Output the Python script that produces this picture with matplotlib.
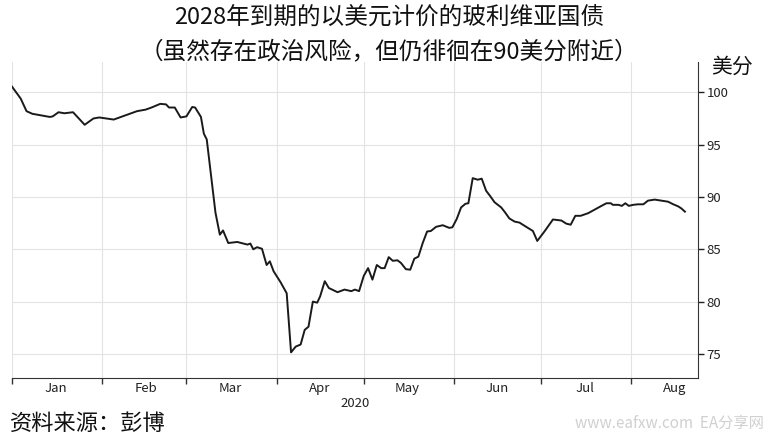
import numpy as np
import pandas as pd
import matplotlib
matplotlib.use("Agg")
import matplotlib.pyplot as plt
import matplotlib.dates as mdates

plt.rcParams['font.family'] = ['Noto Sans CJK SC', 'DejaVu Sans']

# days since 2020-01-01, price in US cents
days = [0, 3, 5, 7, 10, 13, 14, 16, 18, 21, 25, 28, 30, 35, 38, 40, 43, 46, 48, 51,
        53, 54, 56, 58, 60, 62, 63, 65, 66, 67, 70, 71.5, 72.6, 74.4, 77.5, 81, 82, 83,
        84.3, 86, 87.6, 88.7, 90, 92.4, 94.5, 96, 97.6, 99.3, 100.7, 102, 103.5, 105,
        106, 107.6, 109, 112, 114.4, 116.7, 118, 119.4, 121, 122.5, 124, 125.5, 127,
        128.2, 129.6, 131, 132.6, 133.8, 135.5, 137, 138.4, 139.8, 141.3, 142.8, 144.1,
        145.9, 148.2, 150.4, 151.5, 153, 154.5, 156, 157, 158.5, 160.2, 161.6, 163.1,
        164.6, 166, 168.3, 169.7, 171.1, 172.9, 174.6, 176.3, 179.2, 180.7, 183.3,
        186.1, 189, 190.7, 192.2, 193.8, 195.6, 198.2, 200.5, 202.8, 204.5, 206, 206.7,
        208.6, 209.8, 211, 212.2, 213.7, 215.4, 217.2, 218.8, 221.1, 223.4, 225.7,
        227.5, 229.2, 230.3, 231.5]
price = [100.55, 99.4, 98.2, 97.95, 97.8, 97.65, 97.7, 98.1, 98.0, 98.1, 96.9, 97.5,
         97.6, 97.4, 97.7, 97.9, 98.2, 98.35, 98.55, 98.9, 98.85, 98.55, 98.55, 97.6,
         97.7, 98.6, 98.55, 97.65, 96.05, 95.5, 88.5, 86.4, 86.8, 85.6, 85.7, 85.45,
         85.55, 85.0, 85.2, 85.05, 83.5, 83.85, 82.9, 81.85, 80.8, 75.15, 75.7, 75.9,
         77.3, 77.6, 80.0, 79.9, 80.5, 81.95, 81.3, 80.9, 81.15, 81.0, 81.15, 81.0,
         82.45, 83.2, 82.1, 83.5, 83.2, 83.2, 84.25, 83.9, 83.95, 83.7, 83.1, 83.05,
         84.1, 84.3, 85.6, 86.7, 86.75, 87.15, 87.3, 87.05, 87.1, 87.9, 89.0, 89.35,
         89.4, 91.8, 91.65, 91.75, 90.6, 90.05, 89.5, 89.0, 88.5, 87.95, 87.65, 87.55,
         87.25, 86.75, 85.8, 86.75, 87.85, 87.75, 87.45, 87.35, 88.2, 88.2, 88.45,
         88.8, 89.15, 89.4, 89.4, 89.25, 89.25, 89.15, 89.4, 89.15, 89.25, 89.3, 89.3,
         89.65, 89.75, 89.65, 89.55, 89.3, 89.1, 88.9, 88.6]

title_1 = "2028年到期的以美元计价的玻利维亚国债"
title_2 = "（虽然存在政治风险，但仍徘徊在90美分附近）"
unit = "美分"
source = "资料来源：彭博"
yticks = [75, 80, 85, 90, 95, 100]

dates = pd.Timestamp("2020-01-01") + pd.to_timedelta(days, unit="D")

fig = plt.figure(figsize=(7.69, 4.40), dpi=100)
ax = fig.add_axes([12/769, 1 - 378/440, (698 - 12)/769, (378 - 62)/440])

ax.plot(dates, price, color="#1a1a1a", lw=1.4)

ax.set_xlim(pd.Timestamp("2020-01-01"), pd.Timestamp("2020-08-24"))
ax.set_ylim(72.7, 102.9)

# y axis on the right
ax.yaxis.tick_right()
ax.set_yticks(yticks)
ax.tick_params(axis="y", length=4, width=1, colors="#222222", labelsize=9.5, pad=2)
ax.spines["left"].set_visible(False)
ax.spines["top"].set_visible(False)
ax.spines["right"].set_color("#333333")
ax.spines["bottom"].set_color("#333333")

# month boundaries as ticks, labels in the middle of the month
ax.xaxis.set_major_locator(mdates.MonthLocator())
ax.xaxis.set_major_formatter(plt.NullFormatter())
ax.xaxis.set_minor_locator(mdates.MonthLocator(bymonthday=16))
ax.xaxis.set_minor_formatter(mdates.DateFormatter("%b"))
ax.tick_params(axis="x", which="major", length=4, width=1, color="#333333")
ax.tick_params(axis="x", which="minor", length=0, labelsize=9.5, labelcolor="#222222", pad=3)

ax.grid(True, which="major", color="#e3e3e3", lw=0.8)
ax.set_axisbelow(True)

fig.text(355/769, 1 - 403/440, "2020", ha="center", va="center", fontsize=9.5, color="#222222")
fig.text(389/769, 1 - 18/440, title_1, ha="center", va="center", fontsize=17, color="#111111")
fig.text(389/769, 1 - 52/440, title_2, ha="center", va="center", fontsize=17, color="#111111")
fig.text(711/769, 1 - 67/440, unit, ha="left", va="center", fontsize=15, color="#111111")
fig.text(10/769, 1 - 423/440, source, ha="left", va="center", fontsize=16, color="#111111")
fig.text(764/769, 1 - 423/440, "www.eafxw.com  EA分享网", ha="right", va="center",
         fontsize=11, color="#d0d0d0")

fig.savefig("out.png", dpi=100)
